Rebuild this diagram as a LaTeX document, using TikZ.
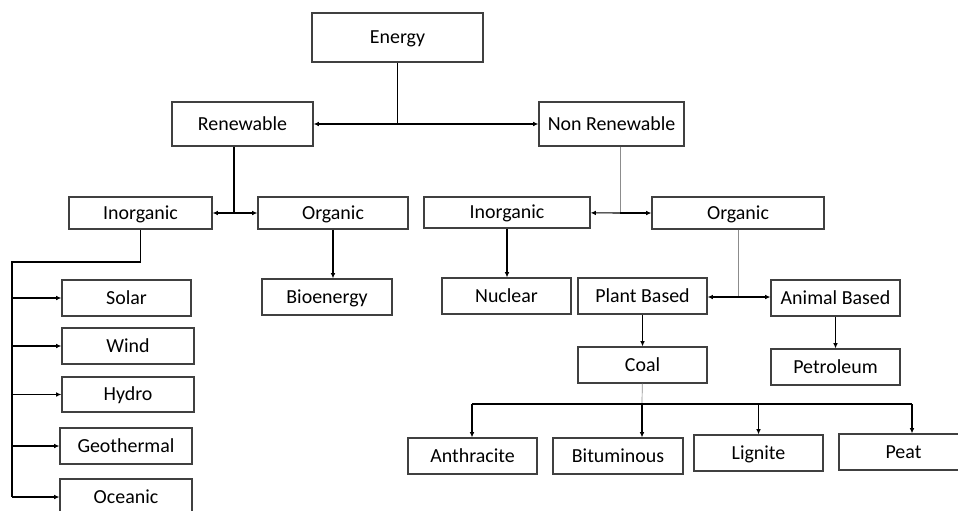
\documentclass[tikz,border=0pt]{standalone}
\usepackage{fontspec}
\setmainfont{Carlito}
\usetikzlibrary{arrows.meta}
\tikzset{
  box/.style={draw=black!75, line width=1pt, inner sep=0pt, text height=14.3pt, text depth=3.4pt, minimum width=38.7mm, minimum height=10.8mm, font=\fontsize{17}{20}\selectfont},
  faint/.style={draw=black!45, line width=0.6pt}
}
\begin{document}
\begin{tikzpicture}[x=0.3mm, y=-0.3mm, line width=0.9pt, >={Latex[length=4.5pt,width=4pt]}]
\useasboundingbox (0,0) rectangle (958,510);
\clip (0,0) rectangle (958,510);
\node[box, minimum width=51.3mm, minimum height=14.7mm] (energy) at (397.5,37.5) {Energy};
\node[box, minimum width=42.3mm, minimum height=13.2mm] (renew) at (242.5,124) {Renewable};
\node[box, minimum width=43.5mm, minimum height=13.2mm] (nonrenew) at (611.5,124) {Non Renewable};
\node[box, minimum width=42.9mm, minimum height=9.6mm] (rinorg) at (140.5,213) {Inorganic};
\node[box, minimum width=45mm, minimum height=9.6mm] (rorg) at (333,213) {Organic};
\node[box, minimum width=49.8mm, minimum height=9.3mm] (ninorg) at (507,212.5) {Inorganic};
\node[box, minimum width=51.6mm, minimum height=9.6mm] (norg) at (738,213) {Organic};
\node[box] (solar) at (126.5,298) {Solar};
\node[box, minimum width=39.6mm] (wind) at (128,346) {Wind};
\node[box, minimum width=39.6mm, minimum height=10.5mm] (hydro) at (128,394.5) {Hydro};
\node[box, minimum width=39.6mm] (geo) at (126,446) {Geothermal};
\node[box, minimum width=39.6mm] (ocean) at (126,497) {Oceanic};
\node[box, minimum width=39mm] (bio) at (327,297) {Bioenergy};
\node[box] (nuclear) at (506.5,296) {Nuclear};
\node[box] (plant) at (642.5,296) {Plant Based};
\node[box] (animal) at (835.5,298) {Animal Based};
\node[box] (coal) at (642.5,365) {Coal};
\node[box] (petrol) at (835.5,367) {Petroleum};
\node[box] (anthra) at (472.5,456) {Anthracite};
\node[box, minimum width=39mm] (bitum) at (618,456) {Bituminous};
\node[box] (lignite) at (758.5,453) {Lignite};
\node[box] (peat) at (903.5,452) {Peat};
\draw (energy) -- (energy |- renew);
\draw[->] (energy |- renew) -- (renew);
\draw[->] (energy |- renew) -- (nonrenew);
\coordinate (rsplit) at (234,213);
\draw (renew.south -| rsplit) -- (rsplit);
\draw[->] (rsplit) -- (rinorg);
\draw[->] (rsplit) -- (rorg);
\coordinate (rbus) at (12,262);
\draw (rinorg.south) |- (rbus) -- (rbus |- ocean);
\foreach \n in {solar,wind,hydro,geo,ocean}
  \draw[->] (rbus |- \n) -- (\n);
\draw[->] (rorg) -- (rorg |- bio.north);
\coordinate (nsplit) at (620,213);
\draw[faint] (nonrenew.south -| nsplit) -- (nsplit);
\draw[->] (nsplit) -- (ninorg);
\draw[->] (nsplit) -- (norg);
\draw[->] (ninorg) -- (ninorg |- nuclear.north);
\coordinate (osplit) at (738,297);
\draw[faint] (norg) -- (osplit);
\draw[->] (osplit) -- (osplit -| plant.east);
\draw[->] (osplit) -- (osplit -| animal.west);
\draw[->] (plant) -- (coal);
\draw[->] (animal) -- (petrol);
\coordinate (cleft) at (472,404);
\coordinate (csplit) at (642,404);
\coordinate (cright) at (912,404);
\draw[faint] (coal) -- (csplit);
\draw (cleft) -- (cright);
\draw[->] (cleft) -- (cleft |- anthra.north);
\draw[->] (csplit) -- (csplit |- bitum.north);
\draw[->] (csplit -| lignite) -- (lignite);
\draw[->] (cright) -- (cright |- peat.north);
\end{tikzpicture}
\end{document}
